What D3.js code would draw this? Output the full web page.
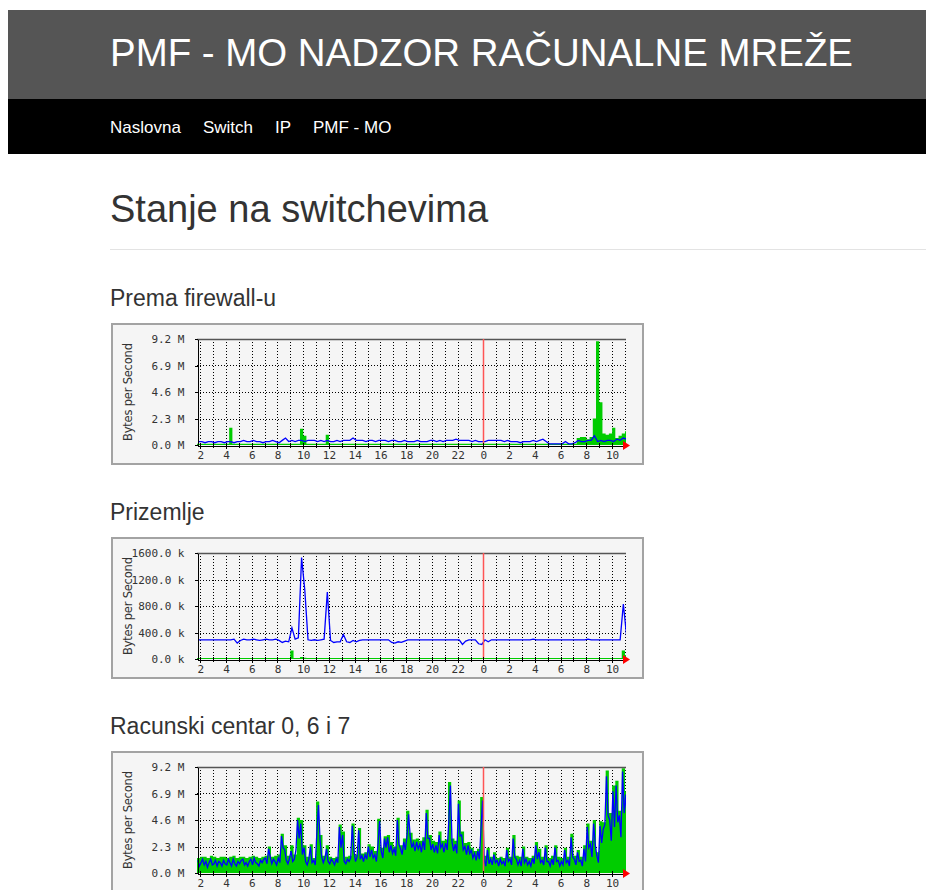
<!DOCTYPE html>
<html>
<head>
<meta charset="utf-8">
<script src="https://cdn.jsdelivr.net/npm/d3@7"></script>
<style>
  body { margin: 0; background: #fff; }
  svg { display: block; }
</style>
</head>
<body>
<div id="page"></div>
<script>
const width = 926;
const height = 890;

// ---- page texts ----
const pageTitle = "PMF - MO NADZOR RAČUNALNE MREŽE";
const navItems = ["Naslovna", "Switch", "IP", "PMF - MO"];
const sectionTitle = "Stanje na switchevima";
const graphTitles = ["Prema firewall-u", "Prizemlje", "Racunski centar 0, 6 i 7"];
const yAxisTitle = "Bytes per Second";

// ---- axes ----
// samples start at 01:45, hour 24 = midnight
const sampleStart = 1.75;
const sampleStep = 0.25;      // 15 min slots
const fineStep = 0.125;       // 7.5 min slots (busy blue line of the last graph)
const sampleEnd = 35.08;
const midnight = 24;
const hourTicks = [2, 4, 6, 8, 10, 12, 14, 16, 18, 20, 22, 24, 26, 28, 30, 32, 34];
const hourTickLabels = ["2", "4", "6", "8", "10", "12", "14", "16", "18", "20", "22", "0", "2", "4", "6", "8", "10"];
const mTicks = [0, 2.3, 4.6, 6.9, 9.2];
const mTickLabels = ["0.0 M", "2.3 M", "4.6 M", "6.9 M", "9.2 M"];
const kTicks = [0, 400, 800, 1200, 1600];
const kTickLabels = ["0.0 k", "400.0 k", "800.0 k", "1200.0 k", "1600.0 k"];

// ---- series (green = in, blue = out) ----
// Prema firewall-u, M bytes/s
const firewallIn = [
  0.1,0.1,0.1,0.1,0.1,0.1,0.1,0.1,0.1,0.1,
  1.5,0.1,0.1,0.1,0.1,0.1,0.1,0.1,0.1,0.1,
  0.1,0.1,0.1,0.1,0.1,0.1,0.1,0.1,0.1,0.1,
  0.1,0.1,1.4,0.8,0.1,0.1,0.1,0.1,0.1,0.1,
  0.9,0.1,0.1,0.1,0.1,0.1,0.1,0.1,0.1,0.1,
  0.1,0.1,0.1,0.1,0.1,0.1,0.1,0.1,0.1,0.1,
  0.1,0.1,0.1,0.1,0.1,0.1,0.1,0.1,0.1,0.1,
  0.1,0.1,0.1,0.1,0.1,0.1,0.1,0.1,0.1,0.1,
  0.1,0.1,0.1,0.1,0.1,0.1,0.1,0.1,0.1,0.1,
  0.1,0.1,0.1,0.1,0.1,0.1,0.1,0.1,0.1,0.1,
  0.1,0.1,0.1,0.1,0.1,0.1,0.1,0.1,0.1,0.1,
  0.1,0.1,0.1,0.1,0.1,0.1,0.1,0.1,0.6,0.7,
  0.7,0.5,0.7,2.3,9.0,3.7,1.0,0.9,1.0,1.5,
  0.6,0.8,1.0,1.2
];
const firewallOut = [
  0.3,0.3,0.2,0.3,0.3,0.2,0.3,0.3,0.2,0.3,
  0.3,0.2,0.3,0.3,0.4,0.3,0.3,0.4,0.3,0.3,
  0.2,0.3,0.3,0.4,0.3,0.2,0.4,0.6,0.3,0.4,
  0.3,0.4,0.4,0.3,0.4,0.4,0.4,0.3,0.4,0.3,
  0.4,0.3,0.3,0.4,0.3,0.4,0.4,0.4,0.6,0.4,
  0.4,0.4,0.3,0.4,0.4,0.3,0.4,0.4,0.4,0.3,
  0.4,0.4,0.3,0.3,0.4,0.3,0.3,0.3,0.4,0.3,
  0.3,0.3,0.4,0.4,0.3,0.4,0.3,0.4,0.4,0.4,
  0.5,0.4,0.4,0.4,0.4,0.3,0.4,0.3,0.3,0.3,
  0.4,0.4,0.4,0.4,0.4,0.3,0.4,0.3,0.3,0.3,
  0.2,0.3,0.3,0.3,0.4,0.3,0.4,0.5,0.3,0.1,
  0.1,0.1,0.1,0.1,0.3,0.1,0.1,0.2,0.4,0.3,
  0.3,0.4,0.4,0.8,0.3,0.4,0.3,0.4,0.4,0.3,
  0.5,0.4,0.6,0.5
];

// Prizemlje, k bytes/s
const prizemljeIn = [
  15,15,15,15,15,15,15,15,15,15,
  15,15,15,15,15,15,15,15,15,15,
  15,15,15,15,15,15,15,15,15,130,
  15,15,30,20,15,15,15,15,15,15,
  15,15,15,15,15,15,15,15,15,15,
  15,15,15,15,15,15,15,15,15,15,
  15,15,15,15,15,15,15,15,15,15,
  15,15,15,15,15,15,15,15,15,15,
  15,15,15,15,15,15,15,15,15,15,
  15,15,15,15,15,15,15,15,15,15,
  15,15,15,15,15,15,15,15,15,15,
  15,15,15,15,15,15,15,15,15,15,
  15,15,15,15,15,15,15,15,15,15,
  15,15,130,60
];
const prizemljeOut = [
  290,290,290,290,290,290,290,290,290,290,
  290,300,240,280,300,290,290,300,290,280,
  290,300,290,290,300,280,250,270,260,470,
  300,320,1530,1040,290,280,290,280,290,300,
  1010,280,250,260,260,370,260,250,280,260,
  280,290,290,290,290,290,290,290,290,290,
  250,240,260,250,270,290,290,290,290,290,
  290,290,290,290,290,290,290,290,290,290,
  290,290,220,270,290,290,290,230,220,290,
  260,290,290,290,290,290,290,290,290,290,
  290,290,290,290,300,290,290,290,290,290,
  290,290,290,290,290,290,290,290,290,290,
  290,300,290,290,290,290,290,290,290,290,
  290,290,830,350
];

// Racunski centar 0, 6 i 7, M bytes/s
const centarIn = [
  1.3,1.4,1.4,1.3,1.5,1.4,1.3,1.4,1.4,1.3,
  1.4,1.5,1.3,1.4,1.4,1.3,1.4,1.5,1.4,1.3,
  1.4,1.5,2.3,1.4,1.5,1.6,3.4,2.4,1.5,2.4,
  1.6,4.8,4.6,2.4,1.4,2.5,1.3,6.2,3.3,1.5,
  2.4,1.4,1.3,1.4,4.2,3.6,1.4,1.5,4.3,1.6,
  3.9,1.7,1.8,2.5,2.3,1.9,4.7,2.2,3.2,3.3,
  2.7,2.3,4.8,2.4,3.0,5.4,3.5,2.9,3.0,2.8,
  3.1,5.5,3.3,2.8,2.7,3.6,2.8,2.9,7.9,3.0,
  2.8,6.3,3.6,2.6,2.7,2.2,1.9,2.1,6.6,1.5,
  2.2,1.4,1.8,1.3,1.4,1.3,2.2,1.4,3.3,1.5,
  1.4,2.3,1.4,1.3,1.5,2.7,2.1,1.4,2.4,1.3,
  1.5,2.4,1.4,1.3,2.2,1.4,3.4,1.5,2.0,1.4,
  2.4,4.3,2.8,4.6,1.8,4.5,4.4,8.9,5.2,7.6,
  8.0,5.4,9.1,7.1
];
// 7.5 min slots
const centarOut = [
  1.1,0.6,0.9,1.2,0.7,1.0,0.5,0.9,1.2,0.7,0.8,1.1,0.6,1.0,0.9,0.6,1.1,0.8,0.7,1.2,
  0.9,0.6,1.2,0.8,0.6,1.0,0.8,1.1,1.2,0.7,0.9,0.6,1.0,1.2,0.7,1.3,0.9,0.8,0.6,1.1,
  0.9,1.2,1.3,0.8,2.1,1.4,0.8,1.2,1.0,0.7,1.3,0.9,3.2,2.2,2.0,1.1,0.8,1.3,1.9,1.0,
  1.2,2.0,4.6,3.0,4.3,1.6,2.2,1.0,0.7,1.2,2.3,0.9,1.1,0.7,3.5,5.9,2.8,1.4,0.9,1.3,
  2.1,1.0,0.8,1.2,1.0,0.7,1.2,0.9,4.0,2.2,3.3,1.0,0.8,1.2,1.0,1.3,4.1,2.0,1.0,1.4,
  3.7,1.2,1.5,1.0,1.6,1.2,2.3,1.4,2.0,1.3,1.6,1.0,2.5,4.5,1.9,1.3,3.0,2.2,3.1,1.8,
  2.4,1.7,2.1,1.5,4.6,2.5,2.1,1.6,2.7,2.0,3.2,5.1,3.2,2.2,2.6,1.9,2.7,2.1,2.5,1.8,
  2.8,2.0,5.2,3.0,3.0,2.0,2.5,1.8,2.4,1.7,3.3,2.2,2.5,1.8,2.6,2.0,4.5,7.6,2.7,1.9,
  2.5,1.7,6.0,3.2,3.3,2.0,2.3,1.6,2.4,1.7,2.0,1.3,1.7,1.1,1.9,1.2,3.8,6.3,1.2,0.6,
  2.0,0.8,1.2,0.7,1.6,0.9,1.1,0.6,1.2,0.8,1.0,0.6,2.0,1.0,1.2,0.7,3.0,1.4,1.2,0.7,
  1.1,0.6,2.1,0.9,1.2,0.7,1.0,0.6,1.3,0.8,2.4,1.2,1.8,0.9,1.1,0.7,2.2,1.0,1.0,0.6,
  1.2,0.7,2.2,1.0,1.1,0.6,1.0,0.7,2.0,0.9,1.1,0.6,3.1,1.4,1.2,0.7,1.8,1.0,1.1,0.6,
  2.1,1.0,4.0,2.2,2.5,1.4,4.3,2.5,1.5,0.9,4.1,2.6,3.8,4.2,8.4,5.0,4.6,2.8,7.1,4.0,
  7.6,4.4,5.0,3.1,8.8,5.2,6.8,4.2
];

// ---- layout ----
const sans = "'Liberation Sans', Arial, Helvetica, sans-serif";
const mono = "'DejaVu Sans Mono', monospace";
const contentLeft = 110;
const graphTops = [323, 537, 751];
const box = { left: 111, width: 533, height: 142 };
const plotMargin = { top: 16, right: 18, bottom: 20, left: 86 };

const svg = d3
  .select("#page")
  .append("svg")
  .attr("width", width)
  .attr("height", height)
  .attr("font-family", sans);

// header band
svg.append("rect")
  .attr("x", 8).attr("y", 10)
  .attr("width", width - 8).attr("height", 90)
  .attr("fill", "#555555");

svg.append("rect")
  .attr("x", 8).attr("y", 99)
  .attr("width", width - 8).attr("height", 55)
  .attr("fill", "#000000");

svg.append("text")
  .attr("x", contentLeft)
  .attr("y", 66)
  .attr("fill", "#ffffff")
  .attr("font-size", 38)
  .attr("textLength", 743)
  .attr("lengthAdjust", "spacingAndGlyphs")
  .text(pageTitle);

const nav = svg.append("g")
  .attr("font-size", 17)
  .attr("fill", "#ffffff");

let navX = contentLeft;
navItems.forEach(name => {
  const t = nav.append("text").attr("x", navX).attr("y", 133).text(name);
  navX += t.node().getComputedTextLength() + 22;
});

svg.append("text")
  .attr("x", contentLeft)
  .attr("y", 222)
  .attr("fill", "#333333")
  .attr("font-size", 38)
  .text(sectionTitle);

svg.append("line")
  .attr("x1", contentLeft).attr("x2", width)
  .attr("y1", 249.5).attr("y2", 249.5)
  .attr("stroke", "#e3e3e3");

const innerW = box.width - plotMargin.left - plotMargin.right;
const innerH = box.height - plotMargin.top - plotMargin.bottom;

const x = d3.scaleLinear()
  .domain([sampleStart, sampleEnd])
  .range([0, innerW]);

const px = v => Math.round(v) + 0.5;

const drawGraph = (top, title, graph, idx) => {
  svg.append("text")
    .attr("x", contentLeft)
    .attr("y", top - 17)
    .attr("fill", "#333333")
    .attr("font-size", 23)
    .text(title);

  const g = svg.append("g")
    .attr("transform", `translate(${box.left}, ${top})`);

  g.append("rect")
    .attr("x", 1).attr("y", 1)
    .attr("width", box.width - 2).attr("height", box.height - 2)
    .attr("fill", "#f5f5f5")
    .attr("stroke", "#a3a3a3")
    .attr("stroke-width", 2);

  g.append("text")
    .attr("transform", `translate(21, ${plotMargin.top + innerH / 2}) rotate(-90)`)
    .attr("text-anchor", "middle")
    .attr("font-family", "'DejaVu Sans', sans-serif")
    .attr("font-size", 11.5)
    .attr("fill", "#333333")
    .attr("textLength", 98)
    .text(yAxisTitle);

  const plot = g.append("g")
    .attr("transform", `translate(${plotMargin.left}, ${plotMargin.top})`);

  const y = d3.scaleLinear()
    .domain([0, graph.ticks[graph.ticks.length - 1]])
    .range([innerH, 0]);

  // grid
  plot.append("g")
    .selectAll("line")
    .data(d3.range(2, 36))
    .join("line")
    .attr("x1", d => px(x(d))).attr("x2", d => px(x(d)))
    .attr("y1", 0).attr("y2", innerH)
    .attr("stroke", "#000")
    .attr("stroke-dasharray", "1,2")
    .attr("shape-rendering", "crispEdges");

  plot.append("g")
    .selectAll("line")
    .data(graph.ticks.slice(1, -1))
    .join("line")
    .attr("x1", 0).attr("x2", innerW)
    .attr("y1", d => px(y(d))).attr("y2", d => px(y(d)))
    .attr("stroke", "#000")
    .attr("stroke-dasharray", "1,2")
    .attr("shape-rendering", "crispEdges");

  const clipId = "clip" + idx;
  plot.append("clipPath").attr("id", clipId)
    .append("rect").attr("width", innerW).attr("height", innerH + 1);

  const data = plot.append("g").attr("clip-path", `url(#${clipId})`);

  const inPoints = graph.inData.map((v, i) => [sampleStart + i * sampleStep, v]);
  inPoints.push([sampleStart + graph.inData.length * sampleStep, graph.inData[graph.inData.length - 1]]);

  data.append("path")
    .datum(inPoints)
    .attr("d", d3.area()
      .x(d => x(d[0]))
      .y0(innerH)
      .y1(d => y(d[1]))
      .curve(d3.curveStepAfter))
    .attr("fill", "#00cc00");

  data.append("path")
    .datum(graph.outData)
    .attr("d", d3.line()
      .x((d, i) => x(sampleStart + (i + 0.5) * graph.outStep))
      .y(d => y(d)))
    .attr("fill", "none")
    .attr("stroke", "#0000ff")
    .attr("stroke-width", 1.3);

  // top frame line
  plot.append("line")
    .attr("x1", 0).attr("x2", innerW)
    .attr("y1", 0.5).attr("y2", 0.5)
    .attr("stroke", "#555")
    .attr("stroke-width", 1.5);

  // midnight marker
  plot.append("line")
    .attr("x1", px(x(midnight))).attr("x2", px(x(midnight)))
    .attr("y1", 0).attr("y2", innerH)
    .attr("stroke", "#ff5555")
    .attr("stroke-width", 1.5);

  // y axis
  const yAxis = plot.append("g")
    .attr("transform", "translate(0.5, 0)")
    .call(d3.axisLeft(y)
      .tickValues(graph.ticks)
      .tickFormat((d, i) => graph.tickLabels[i])
      .tickSize(3)
      .tickSizeOuter(0)
      .tickPadding(10));

  // hourly ticks across the x axis
  plot.append("g")
    .selectAll("line")
    .data(d3.range(2, 36))
    .join("line")
    .attr("x1", d => px(x(d))).attr("x2", d => px(x(d)))
    .attr("y1", innerH - 2).attr("y2", innerH + 3)
    .attr("stroke", "#000")
    .attr("shape-rendering", "crispEdges");

  const xAxis = plot.append("g")
    .attr("transform", `translate(0, ${innerH + 0.5})`)
    .call(d3.axisBottom(x)
      .tickValues(hourTicks)
      .tickFormat((d, i) => hourTickLabels[i])
      .tickSize(3)
      .tickSizeOuter(0)
      .tickPadding(3));

  [yAxis, xAxis].forEach(a => {
    a.selectAll("text")
      .attr("font-family", mono)
      .attr("font-size", 11)
      .attr("fill", "#333");
    a.selectAll("path, line").attr("stroke", "#000").attr("shape-rendering", "crispEdges");
  });

  // red arrow at the end of the time axis
  plot.append("path")
    .attr("d", d3.line()([[innerW - 3, innerH - 4], [innerW + 4, innerH + 0.5], [innerW - 3, innerH + 5]]))
    .attr("fill", "#ff0000");
};

const graphs = [
  { ticks: mTicks, tickLabels: mTickLabels, inData: firewallIn, outData: firewallOut, outStep: sampleStep },
  { ticks: kTicks, tickLabels: kTickLabels, inData: prizemljeIn, outData: prizemljeOut, outStep: sampleStep },
  { ticks: mTicks, tickLabels: mTickLabels, inData: centarIn, outData: centarOut, outStep: fineStep }
];

graphs.forEach((graph, i) => drawGraph(graphTops[i], graphTitles[i], graph, i));
</script>
</body>
</html>
